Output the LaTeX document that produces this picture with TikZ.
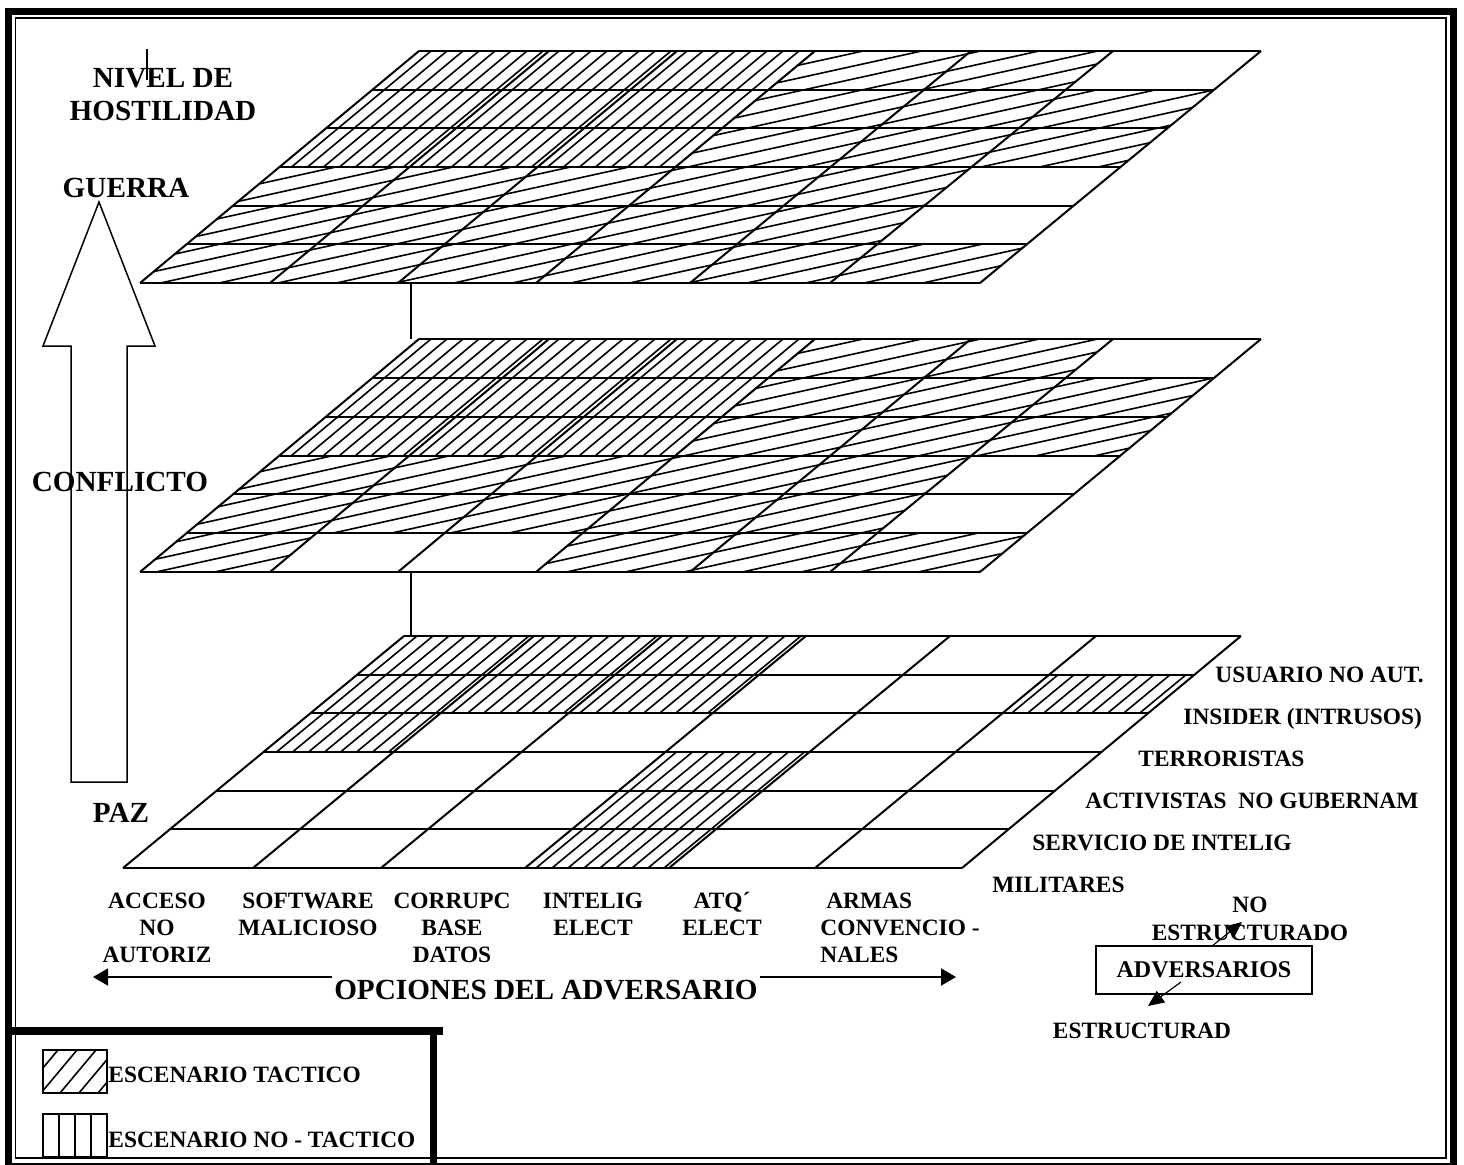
\documentclass[tikz,border=0pt]{standalone}
\usepackage{fontspec}
\setmainfont{Liberation Serif}
\usetikzlibrary{calc,arrows.meta}
\newcommand\mkplane[4]{%
  \foreach \tx/\bx [count=\i from 0] in {#4} {%
    \foreach \r in {0,...,6} {%
      \coordinate (#1-\r-\i) at ({\tx+(\bx-\tx)*\r/6},{#2+(#3-#2)*\r/6});
    }%
  }%
}
\newcommand\drawgrid[1]{%
  \foreach \r in {0,...,6} {\draw[gridline] (#1-\r-0) -- (#1-\r-6);}%
  \foreach \i in {0,...,6} {\draw[gridline] (#1-0-\i) -- (#1-6-\i);}%
}
\newcommand\cellclip[2]{%
  \clip \foreach \r/\c [evaluate=\r as \rr using int(\r+1), evaluate=\c as \cc using int(\c+1)] in {#2} {(#1-\r-\c) -- (#1-\r-\cc) -- (#1-\rr-\cc) -- (#1-\rr-\c) -- cycle};%
}
\newcommand\steephatch[3]{%
  \foreach \t in {40,56,...,1000} {\draw[hatchline] (\t,#2) -- ++(#3,{-(#2-#1)});}%
}
\newcommand\flathatch[1]{%
  \foreach \k in {-23,...,17} {\draw[hatchline] (100,{#1+12.9*\k-22}) -- (1300,{#1+12.9*\k-286});}%
}
\begin{document}
\begin{tikzpicture}[x=0.5pt,y=-0.5pt,
  gridline/.style={line width=1pt},
  hatchline/.style={line width=0.8pt},
  lbl/.style={font=\bfseries\fontsize{11.7}{13.5}\selectfont, inner sep=0pt},
  big/.style={font=\bfseries\fontsize{14.6}{16.5}\selectfont, inner sep=0pt},
  optarrow/.style={line width=0.85pt, -{Triangle[length=7.5pt,width=8.5pt]}},
  advarrow/.style={line width=0.6pt, -{Triangle[length=8pt,width=7pt]}}]
\useasboundingbox (0,0) rectangle (1464,1164);
\fill[white] (0,0) rectangle (1464,1164);
% frame
\draw[line width=3.5pt] (8.5,11) rectangle (1453,1166);
\draw[line width=0.8pt] (15.5,18) rectangle (1446,1158);
% planes
\mkplane{T}{51}{283}{419/140,549/270,677/398,815/536,971/690,1113/830,1261/980}
\mkplane{M}{339}{572}{419/140,549/270,677/398,815/536,971/690,1113/830,1261/980}
\mkplane{B}{636}{868}{404/123,534/253,662/381,806/525,950/669,1096/815,1241/962}
% top plane hatching
\begin{scope}\cellclip{T}{0/0,0/1,0/2,1/0,1/1,1/2,2/0,2/1,2/2}\steephatch{51}{283}{279}\end{scope}
\begin{scope}\cellclip{T}{0/3,0/4,1/3,1/4,1/5,2/3,2/4,2/5,3/0,3/1,3/2,3/3,3/4,4/0,4/1,4/2,4/3,4/4,5/0,5/1,5/2,5/3,5/4,5/5}\flathatch{357}\end{scope}
% middle plane hatching
\begin{scope}\cellclip{M}{0/0,0/1,0/2,1/0,1/1,1/2,2/0,2/1,2/2}\steephatch{339}{572}{279}\end{scope}
\begin{scope}\cellclip{M}{0/3,0/4,1/3,1/4,1/5,2/3,2/4,2/5,3/0,3/1,3/2,3/3,3/4,4/0,4/1,4/2,4/3,4/4,5/0,5/3,5/4,5/5}\flathatch{645}\end{scope}
% bottom plane hatching
\begin{scope}\cellclip{B}{0/0,0/1,0/2,1/0,1/1,1/2,1/5,2/0,3/3,4/3,5/3}\steephatch{636}{868}{281}\end{scope}
\drawgrid{T}
\drawgrid{M}
\drawgrid{B}
% connectors between planes
\coordinate (c1a) at (411,283); \coordinate (c1b) at (411,339);
\coordinate (c2a) at (411,572); \coordinate (c2b) at (411,636);
\draw[gridline] (c1a) -- (c1b);
\draw[gridline] (c2a) -- (c2b);
% hostility arrow
\draw[line width=0.75pt] (99,202) -- (155,346) -- (127,346) -- (127,782) -- (71,782) -- (71,346) -- (43,346) -- cycle;
\coordinate (tk1) at (147,49); \coordinate (tk2) at (147,80);
\draw[line width=0.6pt] (tk1) -- (tk2);
\node[big, align=center, anchor=base] (nivel) at (163,120) {NIVEL DE\\HOSTILIDAD};
\node[big, anchor=base] (guerra) at (126,197) {GUERRA};
\node[big, anchor=base] (conflicto) at (120,491) {CONFLICTO};
\node[big, anchor=base] (paz) at (121,822) {PAZ};
% column labels
\node[lbl, align=center, anchor=base] (c1) at (157,962) {ACCESO\\NO\\AUTORIZ};
\node[lbl, align=center, anchor=base] (c2) at (308,935) {SOFTWARE\\MALICIOSO};
\node[lbl, align=center, anchor=base] (c3) at (452,962) {CORRUPC\\BASE\\DATOS};
\node[lbl, align=center, anchor=base] (c4) at (593,935) {INTELIG\\ELECT};
\node[lbl, align=center, anchor=base] (c5) at (722,935) {ATQ´\\ELECT};
\node[lbl, align=left, anchor=base west] (c6) at (820,962) {\ ARMAS\\CONVENCIO -\\NALES};
% options arrows
\node[big, anchor=base] (opc) at (546,999) {OPCIONES DEL ADVERSARIO};
\coordinate (oL1) at (332,977); \coordinate (oL2) at (93,977);
\coordinate (oR1) at (760,977); \coordinate (oR2) at (956,977);
\draw[optarrow] (oL1) -- (oL2);
\draw[optarrow] (oR1) -- (oR2);
% row labels
\node[lbl, anchor=base west] (r1) at (1215,682) {USUARIO NO AUT.};
\node[lbl, anchor=base west] (r2) at (1183,724) {INSIDER (INTRUSOS)};
\node[lbl, anchor=base west] (r3) at (1138,766) {TERRORISTAS};
\node[lbl, anchor=base west] (r4) at (1085,808) {ACTIVISTAS\ \ NO GUBERNAM};
\node[lbl, anchor=base west] (r5) at (1032,850) {SERVICIO DE INTELIG};
\node[lbl, anchor=base west] (r6) at (992,892) {MILITARES};
% adversarios
\node[lbl, align=center, anchor=base, font=\bfseries\fontsize{11.7}{14}\selectfont] (noest) at (1250,940) {NO\\ESTRUCTURADO};
\node[draw, line width=0.75pt, minimum width=108pt, minimum height=24pt, inner sep=0pt, font=\bfseries\fontsize{12}{14}\selectfont] (adv) at (1204,970) {ADVERSARIOS};
\node[lbl, anchor=base] (est) at (1142,1038) {ESTRUCTURAD};
\coordinate (a1) at (1212,946); \coordinate (a2) at (1242,922);
\coordinate (a3) at (1181,982); \coordinate (a4) at (1148,1006);
\draw[advarrow] (a1) -- (a2);
\draw[advarrow] (a3) -- (a4);
% legend
\draw[line width=4pt] (10,1031) -- (443,1031);
\draw[line width=3.5pt] (433.5,1029) -- (433.5,1166);
\node[draw, line width=0.6pt, minimum width=32pt, minimum height=21.5pt, inner sep=0pt] (sw1) at (75,1071.5) {};
\begin{scope}
\clip (sw1.south west) rectangle (sw1.north east);
\foreach \t in {22,41,60,79,98} {\draw[hatchline] (\t,1093) -- ++(36,-43);}
\end{scope}
\node[draw, line width=0.6pt, minimum width=32pt, minimum height=21.5pt, inner sep=0pt] (sw2) at (75,1135.5) {};
\foreach \x in {59,75,91} {\draw[hatchline] (\x,1114) -- (\x,1157);}
\node[lbl, anchor=base west] (lg1) at (108,1082) {ESCENARIO TACTICO};
\node[lbl, anchor=base west] (lg2) at (108,1147) {ESCENARIO NO - TACTICO};
\end{tikzpicture}
\end{document}
